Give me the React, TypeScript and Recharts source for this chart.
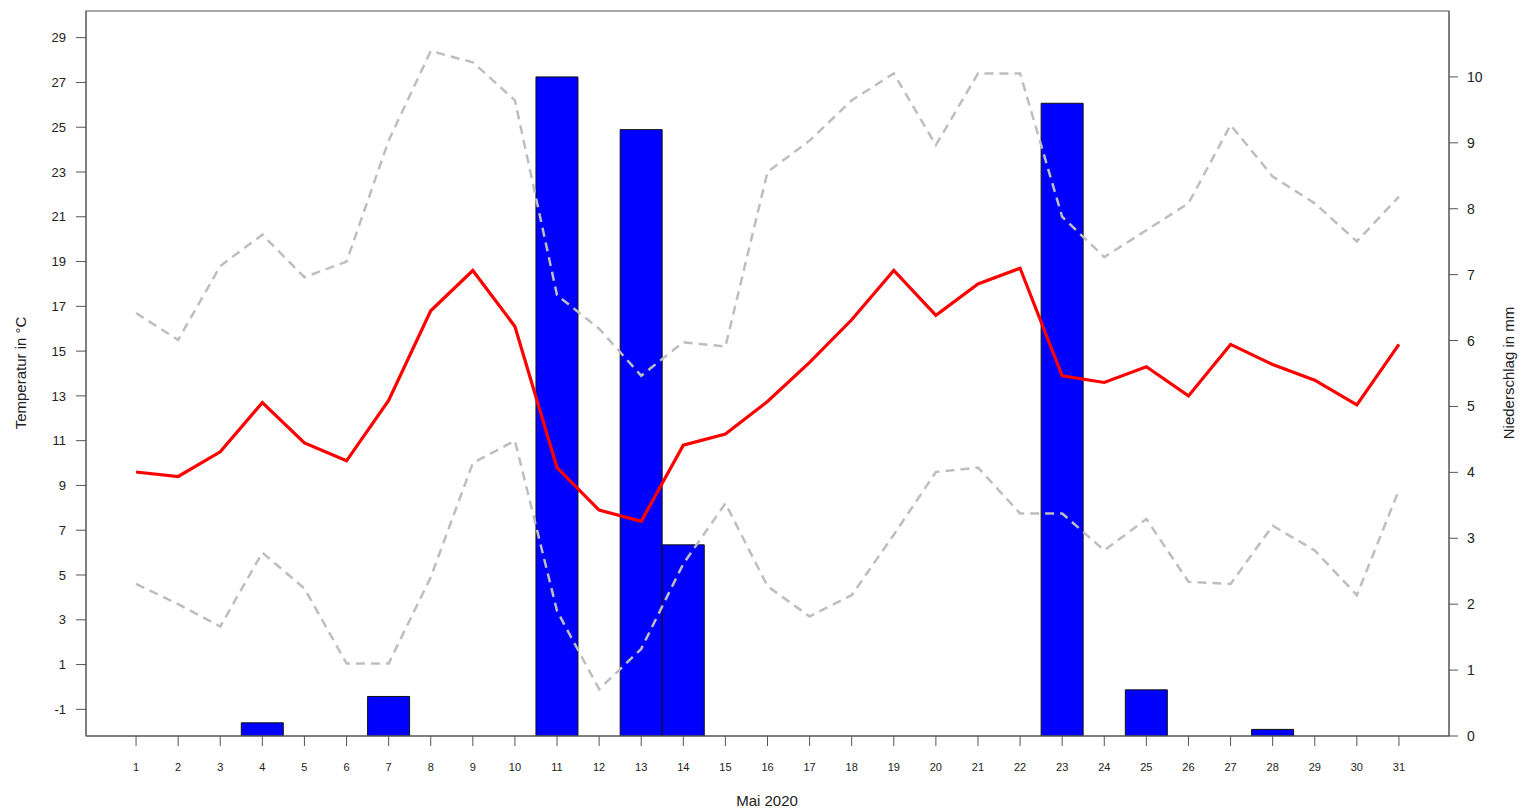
import { ComposedChart, Bar, Line, XAxis, YAxis } from 'recharts';

const days = [
  '1', '2', '3', '4', '5', '6', '7', '8', '9', '10',
  '11', '12', '13', '14', '15', '16', '17', '18', '19', '20',
  '21', '22', '23', '24', '25', '26', '27', '28', '29', '30', '31',
];

// Tagesmittel, -maximum und -minimum in °C
const tempMean = [
  9.6, 9.4, 10.5, 12.7, 10.9, 10.1, 12.8, 16.8, 18.6, 16.1,
  9.8, 7.9, 7.4, 10.8, 11.3, 12.75, 14.5, 16.4, 18.6, 16.6,
  18.0, 18.7, 13.9, 13.6, 14.3, 13.0, 15.3, 14.4, 13.7, 12.6, 15.3,
];
const tempMax = [
  16.7, 15.5, 18.8, 20.2, 18.3, 19.0, 24.4, 28.4, 27.9, 26.2,
  17.5, 16.0, 13.9, 15.4, 15.2, 23.0, 24.4, 26.2, 27.4, 24.2,
  27.4, 27.4, 21.0, 19.2, 20.4, 21.6, 25.1, 22.8, 21.6, 19.9, 21.9,
];
const tempMin = [
  4.6, 3.7, 2.7, 6.0, 4.4, 1.05, 1.05, 4.9, 10.0, 11.0,
  3.4, -0.1, 1.7, 5.5, 8.2, 4.5, 3.15, 4.1, 6.8, 9.6,
  9.8, 7.75, 7.75, 6.1, 7.5, 4.7, 4.6, 7.2, 6.1, 4.1, 8.8,
];
// Niederschlag in mm
const rain = [
  null, null, null, 0.2, null, null, 0.6, null, null, null,
  10.0, null, 9.2, 2.9, null, null, null, null, null, null,
  null, null, 9.6, null, 0.7, null, null, 0.1, null, null, null,
];

const tempTicks = [-1, 1, 3, 5, 7, 9, 11, 13, 15, 17, 19, 21, 23, 25, 27, 29];
const rainTicks = [0, 1, 2, 3, 4, 5, 6, 7, 8, 9, 10];

const data = days.map((day, i) => ({
  day,
  mean: tempMean[i],
  max: tempMax[i],
  min: tempMin[i],
  rain: rain[i],
}));

const axisColor = '#555';
const textColor = '#222';

export default function App() {
  return (
    <div
      style={{
        position: 'absolute',
        left: 0,
        top: 0,
        width: 1519,
        height: 809,
        background: '#fff',
        fontFamily: 'Arial, "Liberation Sans", sans-serif',
      }}
    >
      <ComposedChart
        width={1519}
        height={809}
        data={data}
        barCategoryGap={0}
        margin={{ top: 11, right: 10, left: 26, bottom: 13 }}
      >
        <XAxis
          dataKey="day"
          interval={0}
          height={60}
          padding={{ left: 29, right: 29 }}
          stroke={axisColor}
          tickLine={{ stroke: axisColor }}
          tickSize={10}
          tickMargin={17}
          tick={{ fontSize: 11, fill: textColor }}
        />
        <YAxis
          yAxisId="temp"
          type="number"
          domain={[-2.19, 30.19]}
          ticks={tempTicks}
          interval={0}
          allowDataOverflow
          width={60}
          stroke={axisColor}
          tickLine={{ stroke: axisColor }}
          tickSize={10}
          tickMargin={10}
          tick={{ fontSize: 13, fill: textColor }}
        />
        <YAxis
          yAxisId="rain"
          orientation="right"
          type="number"
          domain={[0, 11]}
          ticks={rainTicks}
          interval={0}
          allowDataOverflow
          width={60}
          stroke={axisColor}
          tickLine={{ stroke: axisColor }}
          tickSize={9}
          tickMargin={9}
          tick={{ fontSize: 14, fill: textColor }}
        />
        <Bar
          yAxisId="rain"
          dataKey="rain"
          fill="#0000ff"
          stroke="#111"
          strokeWidth={1}
          isAnimationActive={false}
        />
        <Line
          yAxisId="temp"
          type="linear"
          dataKey="max"
          stroke="#bebebe"
          strokeWidth={2.5}
          strokeDasharray="9 6"
          dot={false}
          activeDot={false}
          isAnimationActive={false}
        />
        <Line
          yAxisId="temp"
          type="linear"
          dataKey="min"
          stroke="#bebebe"
          strokeWidth={2.5}
          strokeDasharray="9 6"
          dot={false}
          activeDot={false}
          isAnimationActive={false}
        />
        <Line
          yAxisId="temp"
          type="linear"
          dataKey="mean"
          stroke="#ff0000"
          strokeWidth={3.2}
          dot={false}
          activeDot={false}
          isAnimationActive={false}
        />
      </ComposedChart>
      <svg
        width={1519}
        height={809}
        style={{ position: 'absolute', left: 0, top: 0, pointerEvents: 'none' }}
      >
        {/* Rahmen um die Zeichenfläche */}
        <rect x={86} y={11} width={1363} height={725} fill="none" stroke={axisColor} strokeWidth={1} />
        <text
          x={26}
          y={373}
          fontSize={15}
          fill={textColor}
          textAnchor="middle"
          transform="rotate(-90 26 373)"
        >
          Temperatur in °C
        </text>
        <text
          x={1514}
          y={373}
          fontSize={15}
          fill={textColor}
          textAnchor="middle"
          transform="rotate(-90 1514 373)"
        >
          Niederschlag in mm
        </text>
        <text x={767} y={806} fontSize={15} fill={textColor} textAnchor="middle">
          Mai 2020
        </text>
      </svg>
    </div>
  );
}
